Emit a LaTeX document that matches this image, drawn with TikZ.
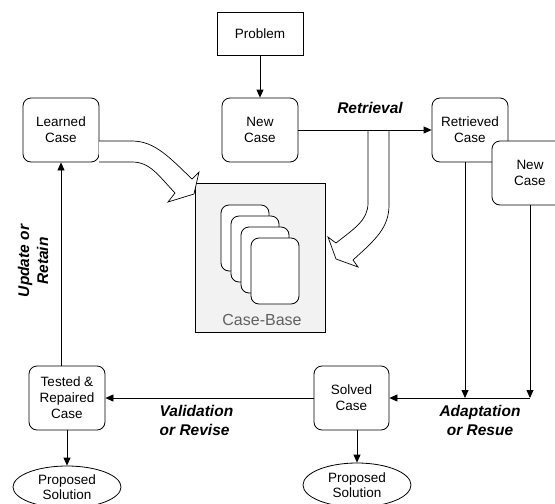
\documentclass[tikz,border=0pt]{standalone}
\usepackage{fontspec}
\setmainfont{Liberation Sans}
\usetikzlibrary{arrows.meta,shapes.geometric,positioning}

\begin{document}
\begin{tikzpicture}[x=1pt,y=-1pt,>={Triangle[length=8pt,width=7pt]},line width=0.8pt,
  case node/.style={rectangle,rounded corners=8pt,draw,fill=white,align=center,
    minimum width=76pt,minimum height=64pt,inner sep=1pt,font=\fontsize{13.5}{16}\selectfont},
  sol node/.style={ellipse,draw,fill=white,align=center,minimum width=108pt,
    minimum height=42pt,inner sep=0pt,font=\fontsize{13.5}{15.5}\selectfont},
  step label/.style={align=center,font=\fontsize{15.5}{19}\selectfont\bfseries\itshape},
  card/.style={rectangle,rounded corners=8pt,draw,fill=white,minimum width=48pt,minimum height=66pt},
  fat arrow/.style={draw,fill=white,line width=0.7pt,line join=miter}]

  \useasboundingbox (0,0) rectangle (555,504);
  \clip (0,0) rectangle (555,504);

  % case-base
  \node[draw,fill=gray!10,minimum width=130pt,minimum height=149pt] (base) at (260,257.5) {};
  \foreach \i in {0,...,3}
    \node[card] (card\i) at (245+10*\i,238+11*\i) {};
  \node[text=gray!75!black,font=\fontsize{16}{19}\selectfont] (baselabel) at (262,320) {Case-Base};

  \node[draw,minimum width=86pt,minimum height=43pt,font=\fontsize{13.5}{16}\selectfont] (problem) at (260,33.5) {Problem};
  \node[case node] (learned) at (61,130) {Learned\\Case};
  \node[case node] (newc) at (260,130) {New\\Case};
  \node[case node] (retr) at (470,130) {Retrieved\\Case};
  \node[case node] (newc2) at (530,173) {New\\Case};
  \node[case node] (tested) at (67,398) {Tested \&\\Repaired\\Case};
  \node[case node,minimum width=75pt] (solved) at (351.5,398) {Solved\\Case};
  \node[sol node] (ps1) at (67,487) {Proposed\\Solution};
  \node[sol node,minimum height=44pt] (ps2) at (357,485) {Proposed\\Solution};

  % fat arrows into the case-base
  \path[fat arrow] (99,141) -- (132,141) .. controls (155,141) and (170,158) .. (192,179)
    -- (199,172) -- (194,194) -- (168,202) -- (175,193)
    .. controls (158,175) and (150,162) .. (132,162) -- (99,162);
  \path[fat arrow] (368,130) -- (368,203) .. controls (368,220) and (355,228) .. (336,243)
    -- (328,237) -- (336,259) -- (358,267) -- (353,260)
    .. controls (375,240) and (389,228) .. (389,205) -- (389,130);

  \coordinate (join) at (newc2.south |- solved.east);

  \path[->]
  (problem) edge (newc)
  (newc) edge (retr)
  ([xshift=-5pt]retr.south) edge ([xshift=-5pt]retr.south |- solved.east)
  (newc2.south) edge (join)
  (join) edge (solved.east)
  (solved) edge (tested)
  (learned.south |- tested.north) edge (learned.south)
  (tested) edge (ps1)
  (ps2.north |- solved.south) edge (ps2.north);

  \node[step label] (retrieval) at (370,108) {Retrieval};
  \node[step label,align=left,anchor=west] (validation) at (156,420) {Validation\\or Revise};
  \node[step label] (adaptation) at (480,420) {Adaptation\\or Resue};
  \node[step label,rotate=90] (update) at (33,261) {Update or\\Retain};
\end{tikzpicture}
\end{document}
